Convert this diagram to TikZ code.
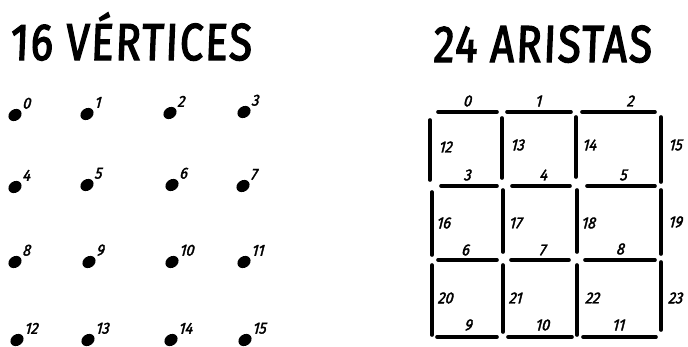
\documentclass[tikz,border=0pt]{standalone}
\usepackage{fontspec}
\usetikzlibrary{shapes.geometric}
\newfontfamily\handtitle[FakeStretch=0.8,FakeSlant=0.04,FakeBold=2.6,LetterSpace=4]{Fira Sans}
\newfontfamily\handnum[FakeStretch=0.9,FakeSlant=0.25,FakeBold=2.2]{Fira Sans}
\begin{document}
\begin{tikzpicture}[x=1pt,y=-1pt,
  titletext/.style={inner sep=0pt,anchor=base west,font=\handtitle\fontsize{52}{52}\selectfont},
  numtext/.style={inner sep=0pt,font=\handnum\fontsize{16}{16}\selectfont},
  vlabel/.style={numtext,anchor=south west},
  edge/.style={line width=3.6pt,line cap=round}]
\useasboundingbox (0,0) rectangle (688,346);
\node[titletext] (t1) at (10,60) {16 VÉRTICES};
\node[titletext] (t2) at (433,62) {24 ARISTAS};
% vertices
\foreach \i/\x/\y in {0/15/115,1/87/114,2/170/113,3/244/112,
  4/15/187,5/87/185,6/172/185,7/243/186,
  8/15/262,9/89/262,10/172/262,11/244/262,
  12/17/340,13/88/340,14/171/340,15/245/340}{
  \coordinate (v\i) at (\x,\y);
  \fill[rotate around={35:(v\i)}] (v\i) ellipse [x radius=7pt, y radius=5.6pt];
  \node[vlabel] (vl\i) at (\x+7,\y-6) {\i};
}
% horizontal edges
\foreach \i/\y/\a/\b/\lx/\ly in {0/112/438/497/467/101,1/112/507/571/538/101,2/112/582/655/630/101,
  3/186/441/497/467/175,4/186/512/570/543/175,5/186/587/655/623/175,
  6/260/438/497/465/250,7/260/511/569/542/250,8/260/585/655/620/249,
  9/337/437/497/468/325,10/337/508/572/542/325,11/337/583/656/618/325}{
  \coordinate (h\i a) at (\a,\y);
  \coordinate (h\i b) at (\b,\y);
  \draw[edge] (h\i a) -- (h\i b);
  \node[numtext] (hl\i) at (\lx,\ly) {\i};
}
% vertical edges
\foreach \i/\x/\a/\b/\lx/\ly in {12/430/120/180/445/147,13/502/118/178/517/145,14/576/117/177/589/145,15/661/117/182/675/145,
  16/432/192/255/443/223,17/503/190/252/515/223,18/577/190/252/588/223,19/661/190/254/675/222,
  20/432/265/335/445/298,21/503/265/332/515/298,22/577/265/335/592/298,23/661/262/330/675/298}{
  \coordinate (e\i a) at (\x,\a);
  \coordinate (e\i b) at (\x,\b);
  \draw[edge] (e\i a) -- (e\i b);
  \node[numtext] (el\i) at (\lx,\ly) {\i};
}
\end{tikzpicture}
\end{document}
